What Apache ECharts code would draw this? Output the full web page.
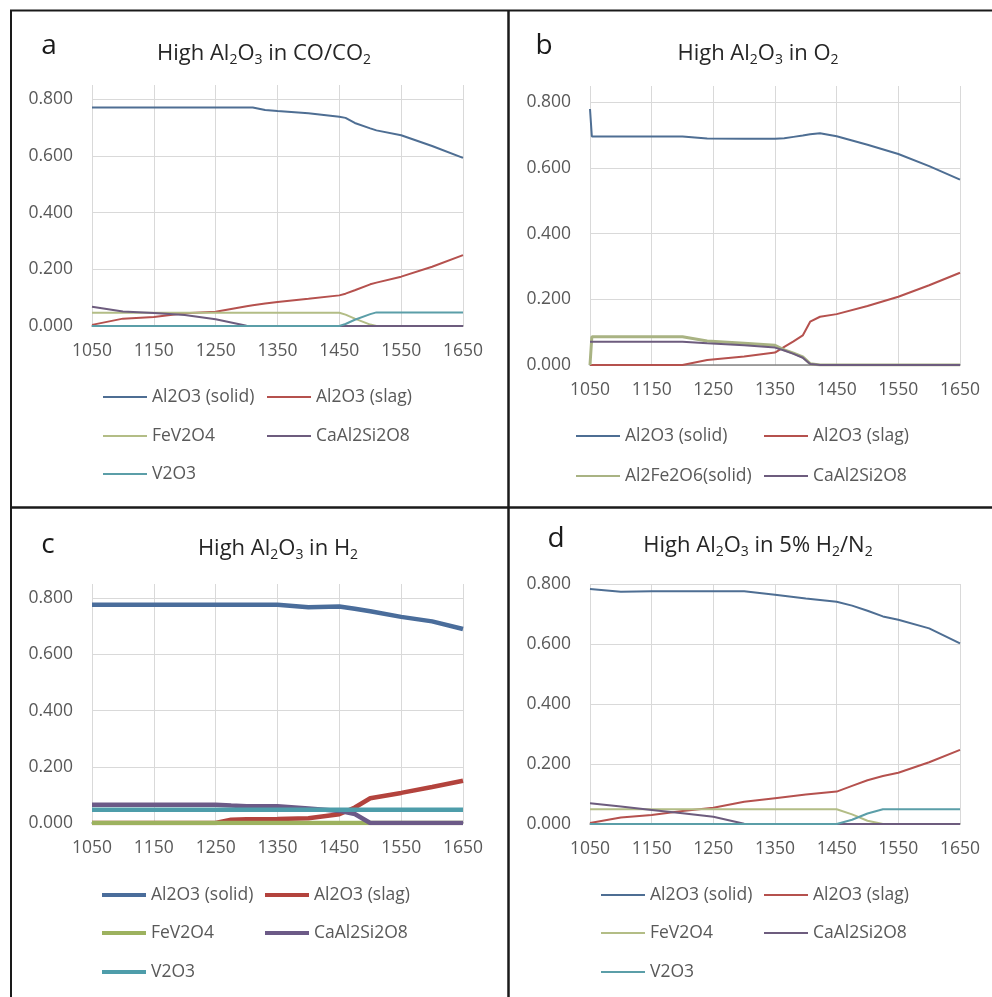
<!DOCTYPE html>
<html><head><meta charset="utf-8">
<script src="https://cdn.jsdelivr.net/npm/echarts@6/dist/echarts.min.js"></script>
<style>html,body{margin:0;padding:0;background:#fff}#c{width:992px;height:997px}</style>
</head><body><div id="c"></div>
<script>
// ---------- tick labels ----------
const xTickStart = 1050;
const xTickStep = 100;
const xTickEnd = 1650;
const yTickStep = 0.2;

// ---------- series names ----------
const namesA = ['Al2O3 (solid)', 'Al2O3 (slag)', 'FeV2O4', 'CaAl2Si2O8', 'V2O3'];
const namesB = ['Al2O3 (solid)', 'Al2O3 (slag)', 'Al2Fe2O6(solid)', 'CaAl2Si2O8'];
const namesC = ['Al2O3 (solid)', 'Al2O3 (slag)', 'FeV2O4', 'CaAl2Si2O8', 'V2O3'];
const namesD = ['Al2O3 (solid)', 'Al2O3 (slag)', 'FeV2O4', 'CaAl2Si2O8', 'V2O3'];

// ---------- panel a : High Al2O3 in CO/CO2 ----------
const tempsA  = [1050,1100,1150,1200,1250,1300,1310,1330,1350,1400,1450,1460,1475,1500,1510,1550,1600,1650];
const solidA  = [0.771,0.771,0.771,0.771,0.771,0.771,0.771,0.762,0.758,0.750,0.738,0.734,0.716,0.697,0.690,0.673,0.635,0.593];
const slagA   = [0.004,0.026,0.032,0.045,0.050,0.070,0.073,0.079,0.085,0.096,0.108,0.114,0.126,0.147,0.153,0.174,0.209,0.250];
const feV2O4A = [0.047,0.047,0.047,0.047,0.047,0.047,0.047,0.047,0.047,0.047,0.047,0.040,0.026,0.005,0,0,0,0];
const caA     = [0.068,0.051,0.046,0.039,0.024,0.001,0,0,0,0,0,0,0,0,0,0,0,0];
const v2o3A   = [0,0,0,0,0,0,0,0,0,0,0,0.007,0.022,0.042,0.048,0.048,0.048,0.048];

// ---------- panel b : High Al2O3 in O2 ----------
const tempsB  = [1050,1053,1100,1150,1200,1240,1300,1350,1365,1380,1395,1407,1423,1450,1500,1550,1600,1650];
const solidB  = [0.780,0.696,0.696,0.696,0.696,0.690,0.689,0.689,0.691,0.695,0.699,0.703,0.706,0.697,0.671,0.643,0.606,0.565];
const slagB   = [0,0,0,0,0,0.015,0.026,0.038,0.055,0.072,0.090,0.132,0.147,0.155,0.180,0.208,0.243,0.281];
const al2fe2o6B = [0,0.086,0.086,0.086,0.086,0.073,0.066,0.060,0.046,0.036,0.025,0.004,0,0,0,0,0,0];
const caB     = [0.071,0.071,0.071,0.071,0.071,0.066,0.060,0.053,0.044,0.034,0.022,0.003,0,0,0,0,0,0];

// ---------- panel c : High Al2O3 in H2 ----------
const tempsC  = [1050,1100,1150,1200,1250,1275,1300,1350,1400,1450,1475,1500,1550,1600,1650];
const solidC  = [0.776,0.776,0.776,0.776,0.776,0.776,0.776,0.776,0.767,0.770,0.762,0.753,0.733,0.717,0.690];
const slagC   = [0,0,0,0,0,0.012,0.013,0.014,0.017,0.031,0.055,0.088,0.107,0.128,0.150];
const feV2O4C = [0,0,0,0,0,0,0,0,0,0,0,0,0,0,0];
const caC     = [0.065,0.065,0.065,0.065,0.065,0.062,0.060,0.060,0.052,0.043,0.032,0,0,0,0];
const v2o3C   = [0.047,0.047,0.047,0.047,0.047,0.047,0.047,0.047,0.047,0.047,0.047,0.047,0.047,0.047,0.047];

// ---------- panel d : High Al2O3 in 5% H2/N2 ----------
const tempsD  = [1050,1100,1150,1200,1250,1300,1350,1400,1450,1475,1500,1525,1550,1600,1650];
const solidD  = [0.783,0.774,0.776,0.776,0.776,0.776,0.764,0.752,0.741,0.728,0.711,0.692,0.681,0.652,0.602];
const slagD   = [0.003,0.022,0.030,0.043,0.054,0.074,0.086,0.098,0.108,0.127,0.146,0.160,0.171,0.206,0.247];
const feV2O4D = [0.049,0.049,0.049,0.049,0.049,0.049,0.049,0.049,0.049,0.032,0.011,0,0,0,0];
const caD     = [0.069,0.058,0.047,0.036,0.024,0.001,0,0,0,0,0,0,0,0,0];
const v2o3D   = [0,0,0,0,0,0,0,0,0,0.014,0.035,0.049,0.049,0.049,0.049];

// ---------- styling ----------
const FONT = "'Open Sans', 'DejaVu Sans', sans-serif";
const colThin = ['#4E6E93', '#B5514E', '#B3BD86', '#6D5C7E', '#5B9EA8'];
const colThick = ['#4A6D9B', '#B3433D', '#9DB25F', '#6C5A87', '#4E9DAA'];

const panels = [
  { temps: tempsA, names: namesA, vals: [solidA, slagA, feV2O4A, caA, v2o3A], colors: colThin, widths: [2,2,2,2,2],
    grid: {left: 92, top: 85, width: 371, height: 241}, ymax: 0.85,
    legCols: [103, 267], legRows: [398, 437, 475], legH: 2 },
  { temps: tempsB, names: namesB, vals: [solidB, slagB, al2fe2o6B, caB], colors: [colThin[0], colThin[1], '#A9B383', colThin[3]], widths: [2,2,3,2],
    grid: {left: 590, top: 86, width: 370, height: 279}, ymax: 0.85,
    legCols: [576, 764], legRows: [437, 477], legH: 2 },
  { temps: tempsC, names: namesC, vals: [solidC, slagC, feV2O4C, caC, v2o3C], colors: colThick, widths: [4.5,4.5,4.5,4.5,4.5],
    grid: {left: 92, top: 584, width: 371, height: 239}, ymax: 0.85,
    legCols: [102, 265], legRows: [896, 934, 973], legH: 4 },
  { temps: tempsD, names: namesD, vals: [solidD, slagD, feV2O4D, caD, v2o3D], colors: colThin, widths: [2,2,2,2,2],
    grid: {left: 590, top: 584, width: 370, height: 240}, ymax: 0.8,
    legCols: [601, 764], legRows: [896, 934, 973], legH: 2 }
];

const grids = [], xAxes = [], yAxes = [], series = [], legends = [];
panels.forEach((p, gi) => {
  grids.push(Object.assign({containLabel: false}, p.grid));
  xAxes.push({
    type: 'value', gridIndex: gi, min: 0, max: xTickEnd - xTickStart, interval: xTickStep,
    axisLine: {show: true, onZero: false, lineStyle: {color: '#868686', width: 1.5}},
    axisTick: {show: false},
    axisLabel: {margin: 16, color: '#595959', fontSize: 17.5, fontFamily: FONT,
      formatter: v => String(v + xTickStart)},
    splitLine: {show: true, lineStyle: {color: '#D9D9D9', width: 1}}
  });
  yAxes.push({
    type: 'value', gridIndex: gi, min: 0, max: p.ymax, interval: yTickStep,
    axisLine: {show: false}, axisTick: {show: false},
    axisLabel: {margin: 19, color: '#595959', fontSize: 17.5, fontFamily: FONT,
      showMaxLabel: p.ymax === 0.8,
      formatter: v => (Math.abs(v / yTickStep - Math.round(v / yTickStep)) < 1e-6 ? v.toFixed(3) : '')},
    splitLine: {show: true, showMaxLine: p.ymax === 0.8, lineStyle: {color: '#D9D9D9', width: 1}}
  });
  p.names.forEach((n, j) => {
    series.push({
      type: 'line', name: n, xAxisIndex: gi, yAxisIndex: gi,
      data: p.temps.map((t, i) => [t - xTickStart, p.vals[j][i]]),
      symbol: 'none', showSymbol: false, silent: true,
      lineStyle: {color: p.colors[j], width: p.widths[j]},
      itemStyle: {color: p.colors[j]}
    });
    legends.push({
      data: [{name: n, itemStyle: {color: p.colors[j], borderWidth: 0}}],
      left: p.legCols[j % 2], top: p.legRows[Math.floor(j / 2)] - 10,
      padding: 0, icon: 'rect', itemWidth: 44, itemHeight: p.legH, selectedMode: false,
      itemStyle: {borderWidth: 0},
      textStyle: {color: '#595959', fontSize: 17.5, fontFamily: FONT, padding: [0,0,0,0]}
    });
  });
});

function titleText(x, y, str) {
  return {type: 'text', x: x, y: y, z: 10,
    style: {text: str, fill: '#262626', fontSize: 22, fontFamily: FONT, lineHeight: 26,
      align: 'center', verticalAlign: 'middle',
      rich: {s: {fontSize: 14, lineHeight: 14, verticalAlign: 'bottom', fill: '#262626', fontFamily: FONT}}}};
}
function letter(x, y, s) {
  return {type: 'text', x: x, y: y, z: 10,
    style: {text: s, fill: '#1a1a1a', fontSize: 28, fontFamily: FONT, align: 'center', verticalAlign: 'middle'}};
}
function line(x1, y1, x2, y2, w) {
  return {type: 'line', z: 20, shape: {x1, y1, x2, y2}, style: {stroke: '#1a1a1a', lineWidth: w}};
}

const graphic = [
  line(10, 10.5, 992, 10.5, 2),
  line(11, 10, 11, 997, 2),
  line(508.5, 10, 508.5, 997, 2.5),
  line(10, 507.5, 992, 507.5, 2.5),
  letter(49, 46, 'a'), letter(544, 46, 'b'), letter(48, 545, 'c'), letter(556, 539, 'd'),
  titleText(264, 54, 'High Al{s|2}O{s|3} in CO/CO{s|2}'),
  titleText(758, 54, 'High Al{s|2}O{s|3} in O{s|2}'),
  titleText(278, 549, 'High Al{s|2}O{s|3} in H{s|2}'),
  titleText(758, 546, 'High Al{s|2}O{s|3} in 5% H{s|2}/N{s|2}')
];

const chart = echarts.init(document.getElementById('c'), null, {renderer: 'canvas'});
chart.setOption({
  animation: false,
  backgroundColor: '#ffffff',
  grid: grids, xAxis: xAxes, yAxis: yAxes, series: series, legend: legends, graphic: graphic
});
</script></body></html>
